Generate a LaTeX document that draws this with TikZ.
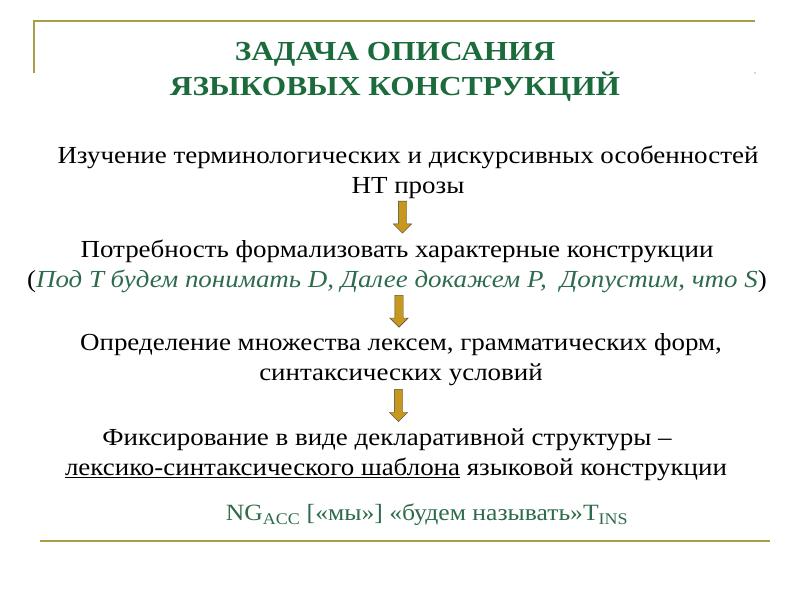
\documentclass[tikz,border=0pt]{standalone}
\usepackage{fontspec}
\setmainfont[FakeStretch=1.10]{Liberation Serif}
\newfontfamily\titlefont[FakeStretch=1.14]{Liberation Serif}
\usetikzlibrary{shapes.arrows}
\definecolor{titlegreen}{HTML}{1C6B3C}
\definecolor{notegreen}{HTML}{2E6B4C}
\definecolor{rulegold}{HTML}{A89E48}
\definecolor{arrowgold}{HTML}{C8981E}
\tikzstyle{title} = [font=\titlefont\bfseries\fontsize{27.5}{35}\selectfont, text=titlegreen,
align=center, inner sep=0pt]
\tikzstyle{body} = [font=\fontsize{24.5}{30}\selectfont, align=center, inner sep=0pt]
\tikzstyle{note} = [font=\fontsize{23.3}{28}\selectfont, text=notegreen, inner sep=0pt]
\tikzstyle{arrow} = [single arrow, draw=black!75, fill=arrowgold, rotate=-90,
inner sep=4pt, minimum height=32pt, single arrow head extend=5pt]
\tikzstyle{rule} = [rulegold, line width=2.5pt]

\begin{document}
\begin{tikzpicture}[x=1pt, y=-1pt]
\useasboundingbox (0,0) rectangle (800,600);
% frame
\draw [rule] (33,21) -- (755,21);
\draw [rule, line width=2pt] (34,21) -- (34,73);
\fill [gray!60] (755,73) circle (0.8pt);
\draw [rule] (40,541) -- (770,541);

\node (0)[title] at (395,72) {ЗАДАЧА ОПИСАНИЯ\\ЯЗЫКОВЫХ КОНСТРУКЦИЙ};
\node (1)[body] at (408,172) {Изучение терминологических и дискурсивных особенностей\\НТ прозы};
\node (2)[body] at (397,266) {Потребность формализовать характерные конструкции\\
(\textcolor{notegreen}{\itshape Под T будем понимать D, Далее докажем P,\ \ Допустим, что S})};
\node (3)[body] at (401,360) {Определение множества лексем, грамматических форм,\\синтаксических условий};
\node (4)[body] at (396,455) {Фиксирование в виде декларативной структуры –\hspace*{18pt}\\
\underline{лексико-синтаксического шаблона} языковой конструкции};
\node (5)[note] at (427,515) {NG\textsubscript{ACC} [«мы»] «будем называть»T\textsubscript{INS}};

\path (1) -- node[arrow, xshift=-4pt]{} (2);
\path (2) -- node[arrow, xshift=-4pt]{} (3);
\path (3) -- node[arrow, xshift=-4pt]{} (4);
\end{tikzpicture}
\end{document}
